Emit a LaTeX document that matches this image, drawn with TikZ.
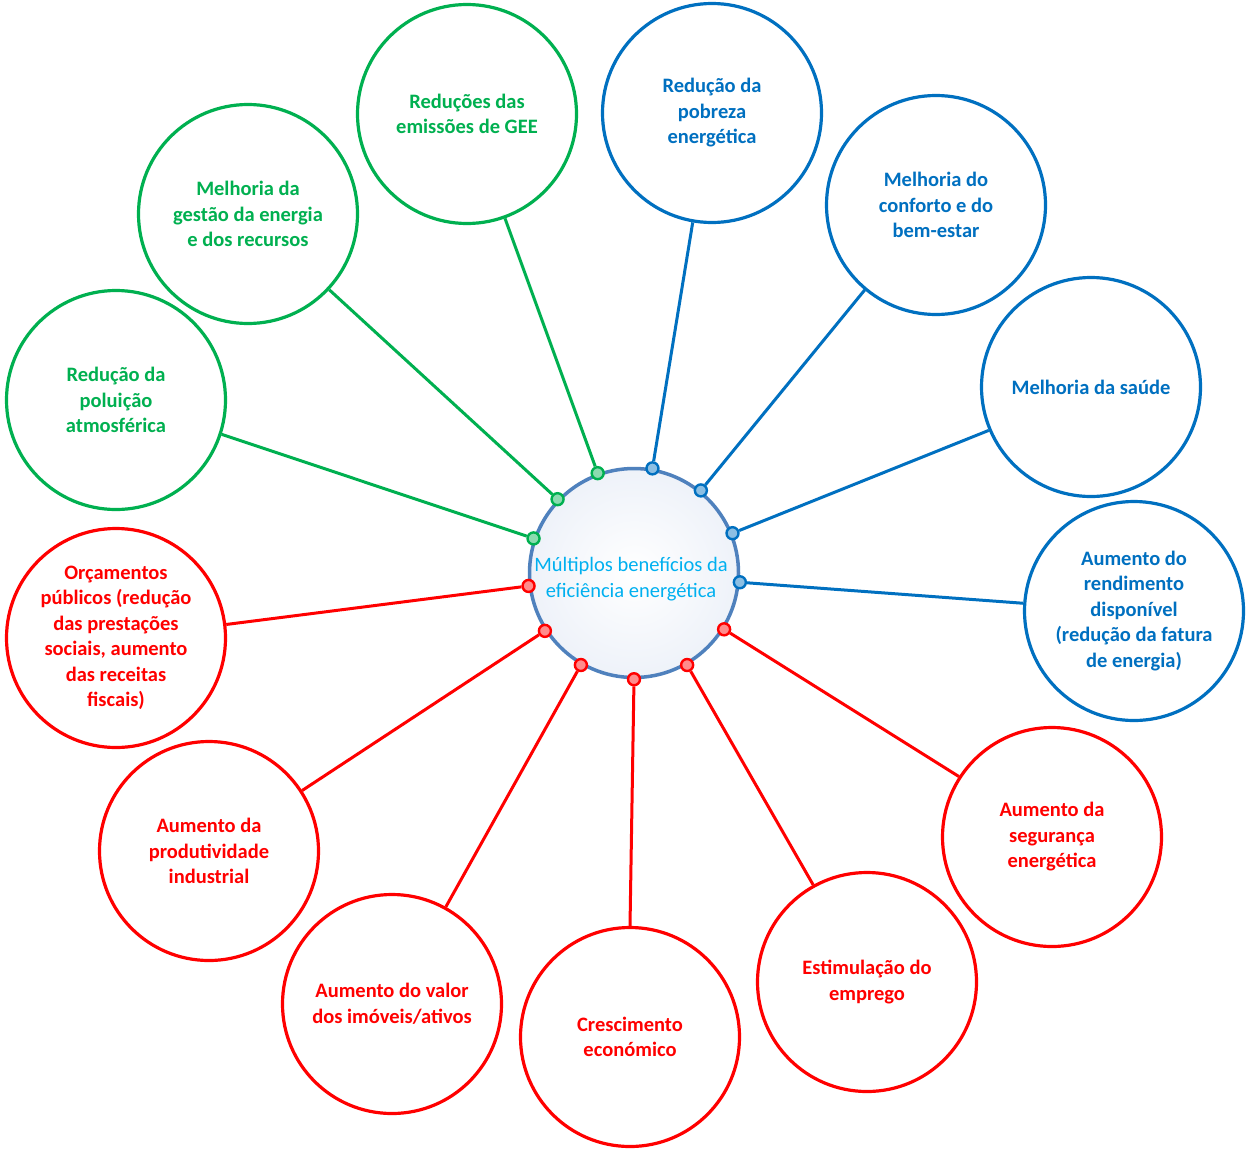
\documentclass[tikz,border=0pt]{standalone}
\usepackage{fontspec}
\setmainfont{Carlito}
\definecolor{gr}{RGB}{0,176,80}
\definecolor{bl}{RGB}{0,112,192}
\definecolor{rd}{RGB}{255,0,0}
\definecolor{ctr}{RGB}{0,176,240}
\definecolor{ring}{RGB}{79,129,189}
\definecolor{ringfill}{RGB}{238,242,249}
\begin{document}
\begin{tikzpicture}[x=1pt,y=1pt,
 ben/.style={circle, draw=#1, text=#1, line width=3.2pt, minimum size=219pt, inner sep=0pt, align=center, font=\fontsize{20.5}{25.5}\selectfont\bfseries},
 link/.style={draw=#1, line width=3pt},
 knob/.style={circle, draw=#1, fill=#1!45!white, line width=2.4pt, minimum size=12pt, inner sep=0pt}]
\fill[white] (0,0) rectangle (1252,-1159);
\useasboundingbox (0,0) rectangle (1252,-1159);

\node[ben=gr] (g1) at (116,-400) {Redução da\\poluição\\atmosférica};
\node[ben=gr] (g2) at (248,-214) {Melhoria da\\gestão da energia\\e dos recursos};
\node[ben=gr] (g3) at (467,-114) {Reduções das\\emissões de GEE};
\node[ben=bl] (b1) at (712,-113) {Redução da\\pobreza\\energética};
\node[ben=bl] (b2) at (936,-205) {Melhoria do\\conforto e do\\bem-estar};
\node[ben=bl] (b3) at (1091,-387) {Melhoria da saúde};
\node[ben=bl] (b4) at (1134,-611) {Aumento do\\rendimento\\disponível\\(redução da fatura\\de energia)};
\node[ben=rd] (r1) at (1052,-837) {Aumento da\\segurança\\energética};
\node[ben=rd] (r2) at (867,-982) {Estimulação do\\emprego};
\node[ben=rd] (r3) at (630,-1037) {Crescimento\\económico};
\node[ben=rd] (r4) at (392,-1004) {Aumento do valor\\dos imóveis/ativos};
\node[ben=rd] (r5) at (209,-851) {Aumento da\\produtividade\\industrial};
\node[ben=rd] (r6) at (116,-638) {Orçamentos\\públicos (redução\\das prestações\\sociais, aumento\\das receitas\\fiscais)};

\node[circle, draw=ring, line width=3.5pt, minimum size=209pt, inner sep=0pt,
      inner color=white, outer color=ringfill] (c) at (634,-573) {};
\node[text=ctr, align=center, font=\fontsize{20.5}{25.5}\selectfont] (ct) at (631,-579) {Múltiplos benefícios da\\eficiência energética};

\node[knob=gr] (kg1) at (c.161) {};
\node[knob=gr] (kg2) at (c.136) {};
\node[knob=gr] (kg3) at (c.110) {};
\node[knob=bl] (kb1) at (c.80) {};
\node[knob=bl] (kb2) at (c.51) {};
\node[knob=bl] (kb3) at (c.22) {};
\node[knob=bl] (kb4) at (c.-5) {};
\node[knob=rd] (kr1) at (c.328) {};
\node[knob=rd] (kr2) at (c.300) {};
\node[knob=rd] (kr3) at (c.270) {};
\node[knob=rd] (kr4) at (c.240) {};
\node[knob=rd] (kr5) at (c.213) {};
\node[knob=rd] (kr6) at (c.187) {};

\draw[link=gr] (g1.-18) -- (kg1);
\draw[link=gr] (g2.-43) -- (kg2);
\draw[link=gr] (g3.-70) -- (kg3);
\draw[link=bl] (b1.260) -- (kb1);
\draw[link=bl] (b2.230) -- (kb2);
\draw[link=bl] (b3.203) -- (kb3);
\draw[link=bl] (b4.176) -- (kb4);
\draw[link=rd] (r1.147) -- (kr1);
\draw[link=rd] (r2.119) -- (kr2);
\draw[link=rd] (r3.90) -- (kr3);
\draw[link=rd] (r4.61) -- (kr4);
\draw[link=rd] (r5.33) -- (kr5);
\draw[link=rd] (r6.7) -- (kr6);
\end{tikzpicture}
\end{document}
